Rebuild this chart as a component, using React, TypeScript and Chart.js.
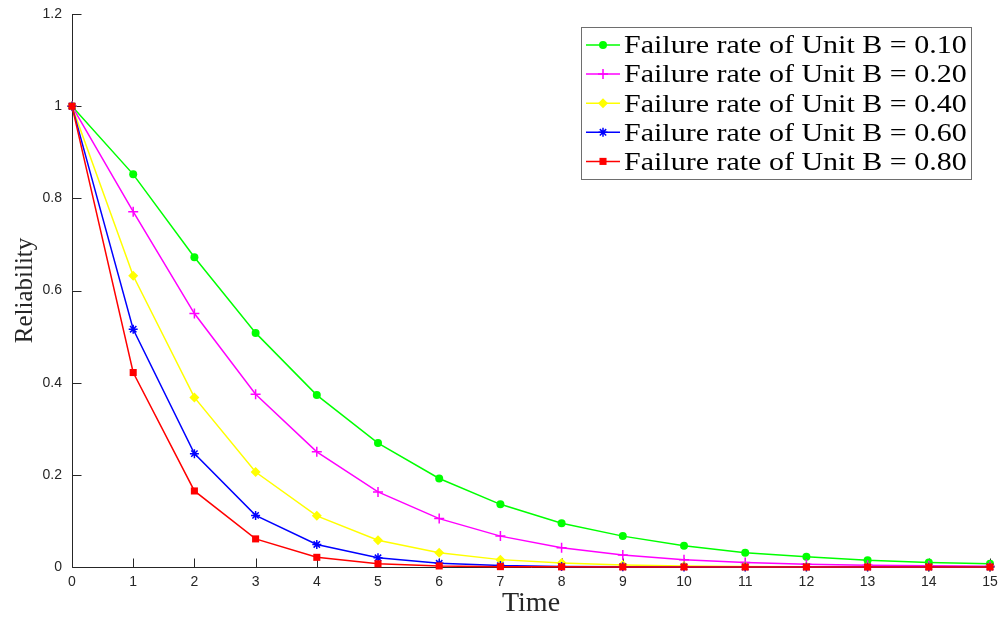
import React, { useEffect, useRef } from 'react';
import { Chart, registerables } from 'chart.js';

Chart.register(...registerables);

// ---- data ----
const times = [0, 1, 2, 3, 4, 5, 6, 7, 8, 9, 10, 11, 12, 13, 14, 15];
const xTicks = [0, 1, 2, 3, 4, 5, 6, 7, 8, 9, 10, 11, 12, 13, 14, 15];
const yTicks = [0, 0.2, 0.4, 0.6, 0.8, 1.0, 1.2];
const yTickLabels = ['0', '0.2', '0.4', '0.6', '0.8', '1', '1.2'];

const seriesLabels = [
  'Failure rate of Unit B = 0.10',
  'Failure rate of Unit B = 0.20',
  'Failure rate of Unit B = 0.40',
  'Failure rate of Unit B = 0.60',
  'Failure rate of Unit B = 0.80',
];

const rate010 = [1, 0.852, 0.672, 0.508, 0.373, 0.269, 0.192, 0.136, 0.095, 0.067, 0.046, 0.031, 0.022, 0.0145, 0.010, 0.0068];
const rate020 = [1, 0.771, 0.550, 0.375, 0.250, 0.163, 0.105, 0.067, 0.042, 0.026, 0.016, 0.010, 0.006, 0.004, 0.0025, 0.0015];
const rate040 = [1, 0.632, 0.368, 0.206, 0.111, 0.058, 0.031, 0.016, 0.0087, 0.0045, 0.0023, 0.0012, 0.0006, 0.0003, 0.0002, 0.0001];
const rate060 = [1, 0.516, 0.246, 0.112, 0.049, 0.020, 0.008, 0.003, 0.0012, 0.0005, 0.0002, 0.0001, 0, 0, 0, 0];
const rate080 = [1, 0.422, 0.165, 0.061, 0.021, 0.007, 0.0023, 0.0008, 0.0003, 0.0001, 0, 0, 0, 0, 0, 0];

const seriesValues = [rate010, rate020, rate040, rate060, rate080];
const seriesColors = ['#00ff00', '#ff00ff', '#ffff00', '#0000ff', '#ff0000'];
const seriesMarkers = ['circle', 'cross', 'rectRot', 'star', 'rect'];
const seriesRadius = [4, 5, 5, 4.5, 5];

const AXIS_COLOR = '#262626';

function drawMarker(ctx: CanvasRenderingContext2D, style: string, x: number, y: number, r: number, color: string) {
  ctx.save();
  ctx.fillStyle = color;
  ctx.strokeStyle = color;
  ctx.lineWidth = 1.5;
  ctx.beginPath();
  if (style === 'circle') {
    ctx.arc(x, y, r, 0, Math.PI * 2);
    ctx.fill();
  } else if (style === 'cross') {
    ctx.moveTo(x - r, y); ctx.lineTo(x + r, y);
    ctx.moveTo(x, y - r); ctx.lineTo(x, y + r);
    ctx.stroke();
  } else if (style === 'rectRot') {
    ctx.moveTo(x, y - r); ctx.lineTo(x + r, y); ctx.lineTo(x, y + r); ctx.lineTo(x - r, y); ctx.closePath();
    ctx.fill();
  } else if (style === 'star') {
    const d = r * Math.SQRT1_2;
    ctx.moveTo(x - r, y); ctx.lineTo(x + r, y);
    ctx.moveTo(x, y - r); ctx.lineTo(x, y + r);
    ctx.moveTo(x - d, y - d); ctx.lineTo(x + d, y + d);
    ctx.moveTo(x - d, y + d); ctx.lineTo(x + d, y - d);
    ctx.stroke();
  } else {
    const s = r * Math.SQRT1_2;
    ctx.rect(x - s, y - s, 2 * s, 2 * s);
    ctx.fill();
  }
  ctx.restore();
}

const axesPlugin = {
  id: 'matlabAxes',
  beforeDatasetsDraw(chart: any) {
    const { ctx, chartArea } = chart;
    const { left, right, top, bottom } = chartArea;
    const x = chart.scales.x;
    const y = chart.scales.y;
    ctx.save();
    ctx.strokeStyle = AXIS_COLOR;
    ctx.lineWidth = 1;
    ctx.beginPath();
    const lx = Math.round(left) + 0.5;
    const by = Math.round(bottom) + 0.5;
    ctx.moveTo(lx, top);
    ctx.lineTo(lx, by);
    ctx.lineTo(right, by);
    xTicks.forEach((v) => {
      const px = Math.round(x.getPixelForValue(v)) + 0.5;
      ctx.moveTo(px, by);
      ctx.lineTo(px, by - 9);
    });
    yTicks.forEach((v) => {
      const py = Math.round(y.getPixelForValue(v)) + 0.5;
      ctx.moveTo(lx, py);
      ctx.lineTo(lx + 9, py);
    });
    ctx.stroke();
    ctx.restore();
  },
};

const legendPlugin = {
  id: 'matlabLegend',
  afterDraw(chart: any) {
    const ctx: CanvasRenderingContext2D = chart.ctx;
    const boxL = 581, boxT = 27, boxR = 971, boxB = 179;
    ctx.save();
    ctx.fillStyle = '#ffffff';
    ctx.fillRect(boxL, boxT, boxR - boxL, boxB - boxT);
    ctx.strokeStyle = '#6e6e6e';
    ctx.lineWidth = 1;
    ctx.strokeRect(boxL + 0.5, boxT + 0.5, boxR - boxL, boxB - boxT);
    const rowStart = 45;
    const rowGap = 29.1;
    seriesLabels.forEach((label, i) => {
      const cy = rowStart + i * rowGap;
      ctx.strokeStyle = seriesColors[i];
      ctx.lineWidth = 1.5;
      ctx.beginPath();
      ctx.moveTo(586, cy);
      ctx.lineTo(620, cy);
      ctx.stroke();
      drawMarker(ctx, seriesMarkers[i], 603, cy, seriesRadius[i], seriesColors[i]);
      ctx.save();
      ctx.translate(624, cy + 8.3);
      ctx.scale(1.2, 1);
      ctx.fillStyle = '#000000';
      ctx.font = '25px "Liberation Serif", "Times New Roman", serif';
      ctx.textBaseline = 'alphabetic';
      ctx.textAlign = 'left';
      ctx.fillText(label, 0, 0);
      ctx.restore();
    });
    ctx.restore();
  },
};

export default function App() {
  const canvasRef = useRef<HTMLCanvasElement | null>(null);

  useEffect(() => {
    if (!canvasRef.current) return;
    const datasets = seriesLabels.map((label, i) => ({
      label,
      data: times.map((t, j) => ({ x: t, y: seriesValues[i][j] })),
      borderColor: seriesColors[i],
      backgroundColor: seriesColors[i],
      pointBackgroundColor: seriesColors[i],
      pointBorderColor: seriesColors[i],
      pointStyle: seriesMarkers[i],
      pointRadius: seriesRadius[i],
      pointBorderWidth: seriesMarkers[i] === 'cross' || seriesMarkers[i] === 'star' ? 1.5 : 0,
      borderWidth: 1.5,
      tension: 0,
      fill: false,
      clip: false,
      order: seriesLabels.length - i,
    }));

    const chart = new Chart(canvasRef.current, {
      type: 'line',
      data: { datasets },
      plugins: [axesPlugin, legendPlugin],
      options: {
        animation: false,
        responsive: false,
        devicePixelRatio: 1,
        layout: { padding: { left: 0, top: 14, right: 10, bottom: 0 } },
        plugins: {
          legend: { display: false },
          tooltip: { enabled: false },
        },
        scales: {
          x: {
            type: 'linear',
            min: 0,
            max: 15,
            afterFit: (s: any) => {
              s.height = 51;
              s.paddingLeft = 0;
              s.paddingRight = 0;
            },
            afterBuildTicks: (s: any) => { s.ticks = xTicks.map((v) => ({ value: v })); },
            ticks: {
              stepSize: 1,
              autoSkip: false,
              maxRotation: 0,
              padding: 7,
              color: AXIS_COLOR,
              font: { family: '"Liberation Sans", Arial, sans-serif', size: 14 },
            },
            grid: { display: false, drawTicks: false },
            border: { display: false },
            title: {
              display: true,
              text: 'Time',
              color: AXIS_COLOR,
              font: { family: '"Liberation Serif", "Times New Roman", serif', size: 28, lineHeight: 1 },
              padding: { top: 0, bottom: 0 },
            },
          },
          y: {
            type: 'linear',
            min: 0,
            max: 1.2,
            afterFit: (s: any) => {
              s.width = 72;
              s.paddingTop = 0;
              s.paddingBottom = 0;
            },
            afterBuildTicks: (s: any) => { s.ticks = yTicks.map((v) => ({ value: v })); },
            ticks: {
              stepSize: 0.2,
              padding: 10,
              color: AXIS_COLOR,
              font: { family: '"Liberation Sans", Arial, sans-serif', size: 14 },
              callback: (v: any) => {
                const idx = yTicks.findIndex((t) => Math.abs(t - Number(v)) < 1e-9);
                return idx >= 0 ? yTickLabels[idx] : '';
              },
            },
            grid: { display: false, drawTicks: false },
            border: { display: false },
            title: {
              display: true,
              text: 'Reliability',
              color: AXIS_COLOR,
              font: { family: '"Liberation Serif", "Times New Roman", serif', size: 25, lineHeight: 1 },
              padding: { top: 13, bottom: 0 },
            },
          },
        },
      },
    } as any);

    return () => {
      chart.destroy();
    };
  }, []);

  return (
    <div style={{ position: 'absolute', left: 0, top: 0, width: 1000, height: 618, background: '#ffffff' }}>
      <canvas ref={canvasRef} width={1000} height={618} style={{ display: 'block', width: 1000, height: 618 }} />
    </div>
  );
}
